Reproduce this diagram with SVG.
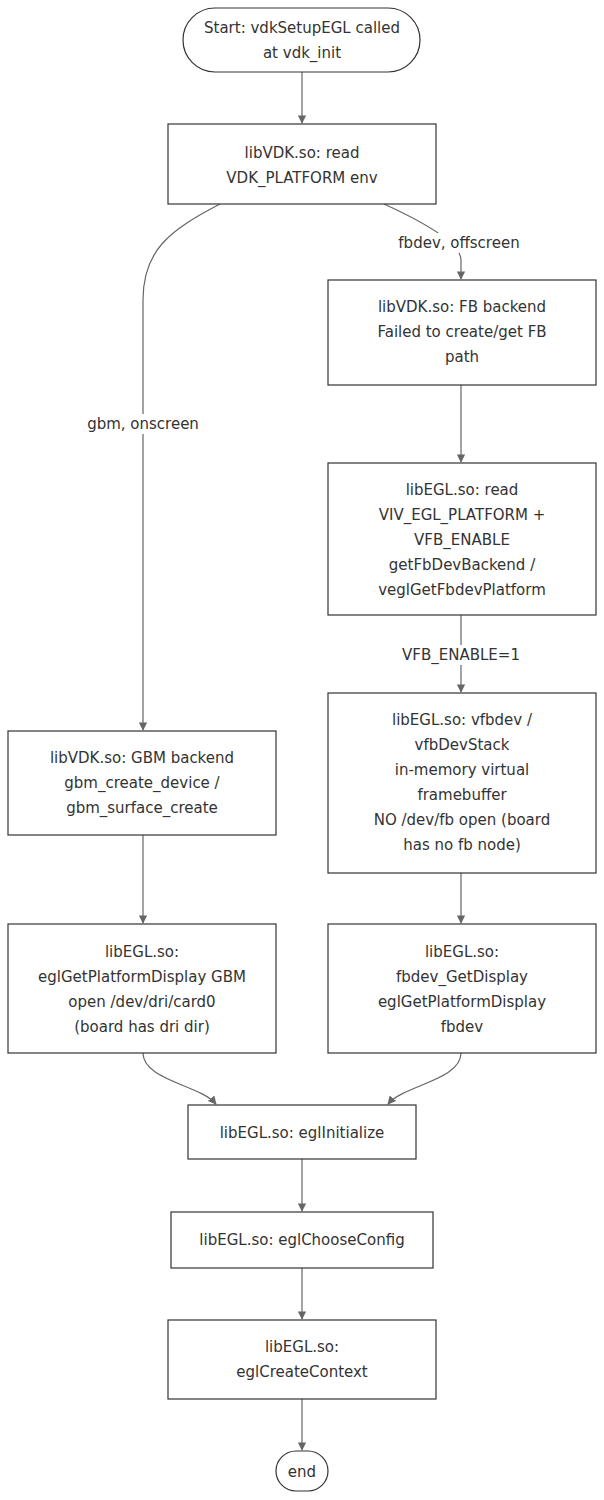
<svg xmlns="http://www.w3.org/2000/svg" width="604" height="1500" viewBox="0 0 604 1500">
<style>
.n{fill:#fff;stroke:#333;stroke-width:1.2}
.t{font-family:"DejaVu Sans",sans-serif;font-size:15px;fill:#333;text-anchor:middle;dominant-baseline:middle}
.e{fill:none;stroke:#666;stroke-width:1.2;marker-end:url(#a)}
.lb{fill:#fff}
</style>
<defs><marker id="a" viewBox="0 0 10 10" refX="9" refY="5" markerWidth="7" markerHeight="7" orient="auto"><path d="M0,0L10,5L0,10z" fill="#666"/></marker></defs>
<rect width="604" height="1500" fill="#fff"/>
<g id="edges">
<path class="e" d="M302,72V123"/>
<path class="e" d="M220,204C170,230 143,250 143,300V730"/>
<path class="e" d="M384,204C430,225 461,245 461,260V279"/>
<path class="e" d="M461,385V462"/>
<path class="e" d="M461,615V692"/>
<path class="e" d="M461,873V923"/>
<path class="e" d="M143,835V923"/>
<path class="e" d="M143,1053C143,1080 200,1085 216,1104"/>
<path class="e" d="M461,1053C461,1080 404,1085 388,1104"/>
<path class="e" d="M302,1159V1211"/>
<path class="e" d="M302,1268V1319"/>
<path class="e" d="M302,1399V1450"/>
<rect class="lb" x="90" y="414" width="106" height="20"/>
<text class="t" x="143" y="424">gbm, onscreen</text>
<rect class="lb" x="398" y="233" width="124" height="20"/>
<text class="t" x="459" y="243">fbdev, offscreen</text>
<rect class="lb" x="406" y="645" width="110" height="20"/>
<text class="t" x="461" y="655">VFB_ENABLE=1</text>
</g>
<g id="start"><rect class="n" x="183" y="8" width="237" height="64" rx="32"/><text class="t" x="302" y="28">Start: vdkSetupEGL called</text><text class="t" x="302" y="53">at vdk_init</text></g>
<g id="vdkread"><rect class="n" x="168" y="124" width="268" height="80"/><text class="t" x="302" y="153">libVDK.so: read</text><text class="t" x="302" y="178">VDK_PLATFORM env</text></g>
<g id="fb"><rect class="n" x="328" y="280" width="268" height="105"/><text class="t" x="462" y="307">libVDK.so: FB backend</text><text class="t" x="462" y="332">Failed to create/get FB</text><text class="t" x="462" y="357">path</text></g>
<g id="eglread"><rect class="n" x="328" y="463" width="268" height="152"/><text class="t" x="462" y="490">libEGL.so: read</text><text class="t" x="462" y="515">VIV_EGL_PLATFORM +</text><text class="t" x="462" y="540">VFB_ENABLE</text><text class="t" x="462" y="565">getFbDevBackend /</text><text class="t" x="462" y="590">veglGetFbdevPlatform</text></g>
<g id="vfb"><rect class="n" x="328" y="693" width="268" height="180"/><text class="t" x="462" y="720">libEGL.so: vfbdev /</text><text class="t" x="462" y="745">vfbDevStack</text><text class="t" x="462" y="770">in-memory virtual</text><text class="t" x="462" y="795">framebuffer</text><text class="t" x="462" y="820">NO /dev/fb open (board</text><text class="t" x="462" y="845">has no fb node)</text></g>
<g id="gbm"><rect class="n" x="8" y="731" width="268" height="104"/><text class="t" x="142" y="758">libVDK.so: GBM backend</text><text class="t" x="142" y="783">gbm_create_device /</text><text class="t" x="142" y="808">gbm_surface_create</text></g>
<g id="eglgbm"><rect class="n" x="8" y="924" width="268" height="129"/><text class="t" x="142" y="952">libEGL.so:</text><text class="t" x="142" y="977">eglGetPlatformDisplay GBM</text><text class="t" x="142" y="1002">open /dev/dri/card0</text><text class="t" x="142" y="1027">(board has dri dir)</text></g>
<g id="eglfb"><rect class="n" x="328" y="924" width="268" height="129"/><text class="t" x="462" y="952">libEGL.so:</text><text class="t" x="462" y="977">fbdev_GetDisplay</text><text class="t" x="462" y="1002">eglGetPlatformDisplay</text><text class="t" x="462" y="1027">fbdev</text></g>
<g id="init"><rect class="n" x="188" y="1105" width="228" height="54"/><text class="t" x="302" y="1133">libEGL.so: eglInitialize</text></g>
<g id="choose"><rect class="n" x="171" y="1212" width="262" height="56"/><text class="t" x="302" y="1240">libEGL.so: eglChooseConfig</text></g>
<g id="create"><rect class="n" x="168" y="1320" width="268" height="79"/><text class="t" x="302" y="1347">libEGL.so:</text><text class="t" x="302" y="1372">eglCreateContext</text></g>
<g id="end"><rect class="n" x="276" y="1451" width="52" height="40" rx="20"/><text class="t" x="302" y="1472">end</text></g>
</svg>
